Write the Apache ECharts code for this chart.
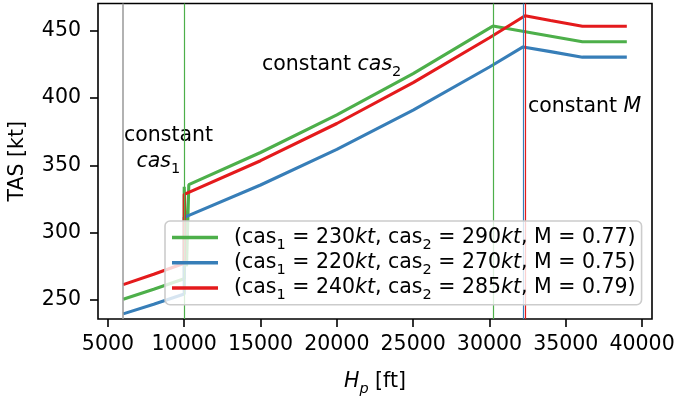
<!DOCTYPE html>
<html>
<head>
<meta charset="utf-8">
<script src="https://cdn.jsdelivr.net/npm/echarts@6/dist/echarts.min.js"></script>
<style>
  html, body { margin: 0; padding: 0; background: #fff; }
  #chart { width: 676px; height: 397px; }
</style>
</head>
<body>
<div id="chart"></div>
<script>
// altitude [ft] and TAS [kt] per profile
const altGreen = [6000, 8000, 10000, 10000, 10150, 10300, 15000, 20000, 25000, 30000, 30230, 33000, 36089, 39000];
const tasGreen = [250.7, 258.1, 265.9, 334.1, 275, 335.6, 359.5, 387.4, 418.0, 451.7, 453.3, 447.8, 441.6, 441.6];
const altBlue = [6000, 8000, 10000, 10000, 15000, 20000, 25000, 30000, 32200, 34000, 36089, 39000];
const tasBlue = [239.8, 247.0, 254.5, 311.4, 335.4, 361.8, 390.9, 422.9, 437.8, 434.3, 430.2, 430.2];
const altRed = [6000, 8000, 10000, 10000, 15000, 20000, 25000, 30000, 32330, 34000, 36089, 39000];
const tasRed = [261.5, 269.2, 277.3, 328.4, 353.4, 381.0, 411.3, 444.6, 460.9, 457.4, 453.1, 453.1];

// legend values
const cas1 = [230, 220, 240];
const cas2 = [290, 270, 285];
const mach = ['0.77', '0.75', '0.79'];
const colors = ['#4daf4a', '#377eb8', '#e41a1c'];

// transition altitudes (vertical lines)
const vlineGray = [6000];
const vlineGreen = [10000, 30230];
const vlineBlue = [32200];
const vlineRed = [32330];

const xTicks = [5000, 10000, 15000, 20000, 25000, 30000, 35000, 40000];
const yTicks = [250, 300, 350, 400, 450];

// annotations: left edge / vertical centre in data units
const noteAlt = [6048, 6874, 15092, 32523];
const noteTas = [372, 352.4, 424.4, 393.6];
const noteText = [
  '{t|constant}',
  '{i|cas}{s|1}',
  '{t|constant }{i|cas}{s|2}',
  '{t|constant }{i|M}'
];

const FS = 20.5;
const FONT = 'DejaVu Sans';
const rich = {
  t: { fontSize: FS, fontFamily: FONT, color: '#000', lineHeight: 23.5, verticalAlign: 'middle' },
  i: { fontSize: FS, fontFamily: FONT, fontStyle: 'italic', color: '#000', lineHeight: 23.5, verticalAlign: 'middle' },
  s: { fontSize: 14.5, fontFamily: FONT, color: '#000', lineHeight: 14.5, verticalAlign: 'bottom', padding: [0, 0, -3, 0] },
  si: { fontSize: 14.5, fontFamily: FONT, fontStyle: 'italic', color: '#000', lineHeight: 14.5, verticalAlign: 'bottom', padding: [0, 0, -3, 0] },
  sp: { width: 11, fontSize: FS, lineHeight: 23.5 }
};

const zip = (a, b) => a.map((v, i) => [v, b[i]]);
const names = ['A', 'B', 'C'];
const vl = (vals, color, w) => ({
  silent: true,
  symbol: ['none', 'none'],
  label: { show: false },
  lineStyle: { type: 'solid', width: w || 1.2, color: color, opacity: 1 },
  data: vals.map(v => ({ xAxis: v }))
});

const chart = echarts.init(document.getElementById('chart'));

const option = {
  animation: false,
  grid: {
    left: 98, right: 24, top: 3.5, bottom: 78,
    outerBoundsMode: 'none',
    containLabel: false,
    show: true, borderColor: '#000', borderWidth: 1.6, backgroundColor: 'transparent'
  },
  xAxis: {
    type: 'value',
    min: 4350, max: 40650,
    name: '{i|H}{si|p}{t| [ft]}',
    nameLocation: 'middle',
    nameGap: 51,
    nameTextStyle: { rich: rich },
    axisLine: { show: false },
    axisTick: { show: true, length: 8, customValues: xTicks, lineStyle: { color: '#000', width: 1.6 } },
    axisLabel: {
      customValues: xTicks, margin: 15, color: '#000', fontSize: FS, fontFamily: FONT,
      formatter: v => String(v)
    },
    splitLine: { show: false }
  },
  yAxis: {
    type: 'value',
    min: 236, max: 470,
    name: 'TAS [kt]',
    nameLocation: 'middle',
    nameRotate: 90,
    nameGap: 70,
    nameTextStyle: { fontSize: FS, fontFamily: FONT, color: '#000' },
    axisLine: { show: false },
    axisTick: { show: true, length: 8, customValues: yTicks, lineStyle: { color: '#000', width: 1.6 } },
    axisLabel: { customValues: yTicks, margin: 17, color: '#000', fontSize: FS, fontFamily: FONT },
    splitLine: { show: false }
  },
  legend: {
    orient: 'vertical',
    left: 165, top: 221,
    z: 20,
    padding: [6, 6, 2, 7],
    itemGap: 0,
    itemWidth: 46, itemHeight: 3.5,
    icon: 'rect',
    backgroundColor: 'rgba(255,255,255,0.8)',
    borderColor: '#cccccc', borderWidth: 1.6, borderRadius: 5,
    data: names,
    formatter: n => {
      const k = names.indexOf(n);
      return `{sp| }{t|(cas}{s|1}{t| = ${cas1[k]}}{i|kt}{t|, cas}{s|2}{t| = ${cas2[k]}}{i|kt}{t|, M = ${mach[k]})}`;
    },
    textStyle: { rich: rich }
  },
  series: [
    {
      name: 'A', type: 'line', data: zip(altGreen, tasGreen), showSymbol: false, symbol: 'none',
      color: colors[0], lineStyle: { width: 3.1, color: colors[0] }, z: 2,
      markLine: vl(vlineGreen, colors[0])
    },
    {
      name: 'B', type: 'line', data: zip(altBlue, tasBlue), showSymbol: false, symbol: 'none',
      color: colors[1], lineStyle: { width: 3.1, color: colors[1] }, z: 2,
      markLine: vl(vlineBlue, colors[1])
    },
    {
      name: 'C', type: 'line', data: zip(altRed, tasRed), showSymbol: false, symbol: 'none',
      color: colors[2], lineStyle: { width: 3.1, color: colors[2] }, z: 2,
      markLine: vl(vlineRed, colors[2])
    },
    {
      name: 'gray', type: 'line', data: [], z: 2, markLine: vl(vlineGray, '#999999', 1.5)
    },
    {
      name: 'notes', type: 'scatter', symbolSize: 0, silent: true, z: 2,
      data: zip(noteAlt, noteTas),
      itemStyle: { opacity: 1 },
      label: {
        show: true, position: 'right', distance: 0,
        color: '#000', opacity: 1, textBorderWidth: 0,
        formatter: p => noteText[p.dataIndex],
        rich: rich
      }
    }
  ]
};

chart.setOption(option);
</script>
</body>
</html>
